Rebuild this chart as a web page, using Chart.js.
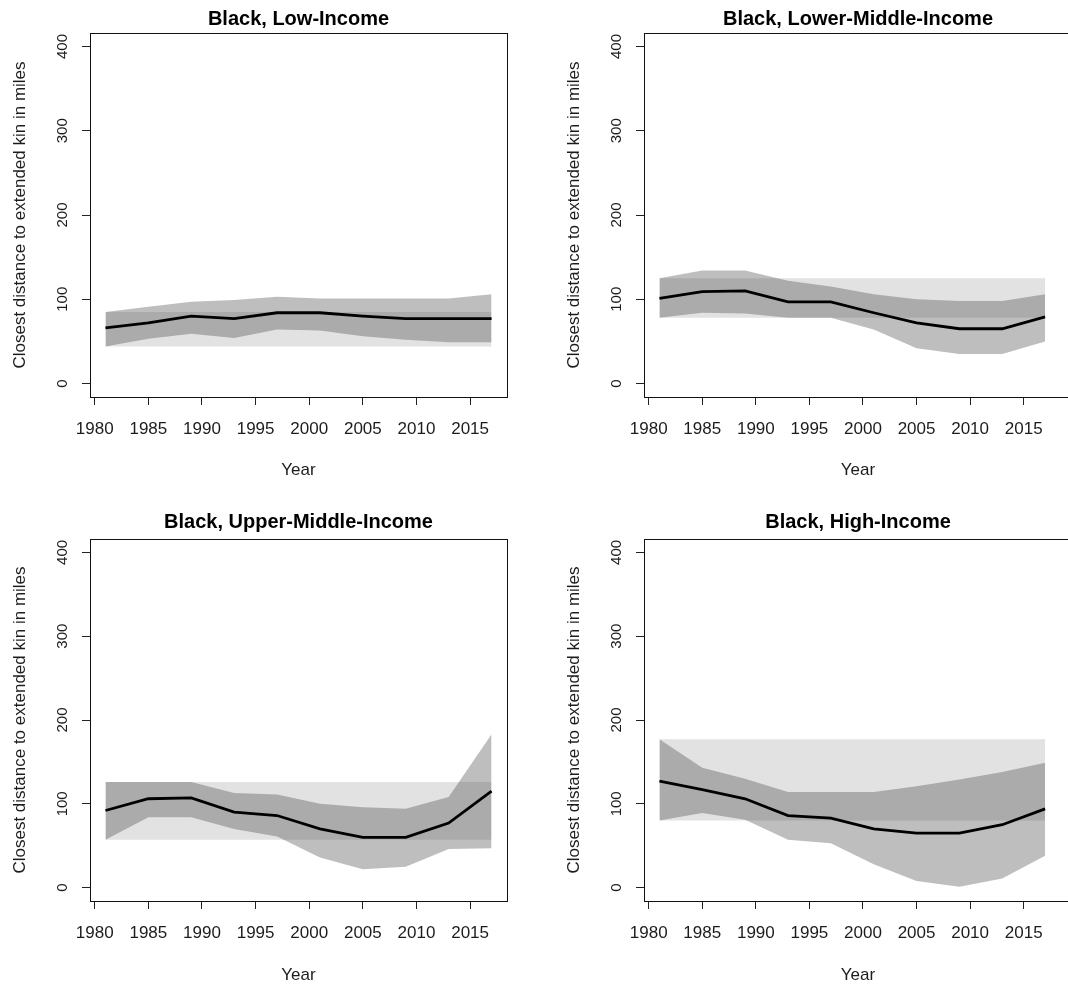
<!DOCTYPE html>
<html>
<head>
<meta charset="utf-8">
<script src="https://cdn.jsdelivr.net/npm/chart.js@4.4.0/dist/chart.umd.min.js"></script>
<style>
  html, body { margin: 0; padding: 0; background: #fff; overflow: hidden; }
  #wrap { position: relative; width: 1068px; height: 986px; }
  canvas { position: absolute; }
</style>
</head>
<body>
<div id="wrap">
  <canvas id="p1"></canvas>
  <canvas id="p2"></canvas>
  <canvas id="p3"></canvas>
  <canvas id="p4"></canvas>
</div>
<script>
  'use strict';

  var years = [1981, 1985, 1989, 1993, 1997, 2001, 2005, 2009, 2013, 2017];
  var bandYears = [1981, 2017];
  var xTicks = [1980, 1985, 1990, 1995, 2000, 2005, 2010, 2015];
  var yTicks = [0, 100, 200, 300, 400];

  // Low-Income
  var lowMean = [66, 72, 80, 77, 84, 84, 80, 77, 77, 77];
  var lowUpper = [85, 91, 97, 99, 103, 101, 101, 101, 101, 106];
  var lowLower = [44, 53, 59, 54, 64, 63, 56, 52, 49, 49];
  var lowBand = [44, 85];

  // Lower-Middle-Income
  var lmMean = [101, 109, 110, 97, 97, 84, 72, 65, 65, 79];
  var lmUpper = [125, 134, 134, 122, 115, 106, 100, 98, 98, 106];
  var lmLower = [78, 84, 83, 78, 78, 64, 42, 35, 35, 50];
  var lmBand = [78, 125];

  // Upper-Middle-Income
  var umMean = [92, 106, 107, 90, 86, 70, 60, 60, 77, 115];
  var umUpper = [126, 126, 126, 113, 111, 100, 96, 94, 108, 183];
  var umLower = [57, 84, 84, 70, 61, 36, 22, 25, 46, 47];
  var umBand = [57, 126];

  // High-Income
  var hiMean = [127, 117, 106, 86, 83, 70, 65, 65, 75, 94];
  var hiUpper = [177, 143, 130, 114, 114, 114, 121, 129, 138, 149];
  var hiLower = [80, 89, 81, 57, 53, 28, 8, 1, 11, 38];
  var hiBand = [80, 177];

  var yTitle = 'Closest distance to extended kin in miles';
  var textColor = '#1c1c1c';
  var fontFamily = '"Liberation Sans", Arial, Helvetica, sans-serif';

  var panels = [
    { id: 'p1', title: 'Black, Low-Income', mean: lowMean, upper: lowUpper, lower: lowLower, band: lowBand,
      left: 0, top: 0, width: 534, height: 482, axisW: 90, padRight: 27, xMax: 2018.44,
      titleTop: 7.5, titleBottom: 1.5, yTitlePad: 9.8, xTitlePad: 1.8 },
    { id: 'p2', title: 'Black, Lower-Middle-Income', mean: lmMean, upper: lmUpper, lower: lmLower, band: lmBand,
      left: 534, top: 0, width: 541, height: 482, axisW: 110, padRight: 3, xMax: 2019.51,
      titleTop: 7.5, titleBottom: 1.5, yTitlePad: 29.8, xTitlePad: 1.8 },
    { id: 'p3', title: 'Black, Upper-Middle-Income', mean: umMean, upper: umUpper, lower: umLower, band: umBand,
      left: 0, top: 493, width: 534, height: 493, axisW: 90, padRight: 27, xMax: 2018.44,
      titleTop: 17, titleBottom: 5, yTitlePad: 9.8, xTitlePad: 0.8 },
    { id: 'p4', title: 'Black, High-Income', mean: hiMean, upper: hiUpper, lower: hiLower, band: hiBand,
      left: 534, top: 493, width: 541, height: 493, axisW: 110, padRight: 3, xMax: 2019.51,
      titleTop: 17, titleBottom: 5, yTitlePad: 29.8, xTitlePad: 0.8 }
  ];

  function toPoints(xs, ys) {
    return xs.map(function(x, i) {
      return { x: x, y: ys[i] };
    });
  }

  // full box around the plot region, R style
  var boxPlugin = {
    id: 'box',
    afterDatasetsDraw: function(chart) {
      var a = chart.chartArea;
      var ctx = chart.ctx;
      ctx.save();
      ctx.strokeStyle = '#111';
      ctx.lineWidth = 1;
      ctx.strokeRect(Math.round(a.left) + 0.5, Math.round(a.top) + 0.5,
        Math.round(a.right - a.left), Math.round(a.bottom - a.top));
      ctx.restore();
    }
  };

  function createPanel(p) {
    var canvas = document.getElementById(p.id);
    canvas.width = p.width;
    canvas.height = p.height;
    canvas.style.left = p.left + 'px';
    canvas.style.top = p.top + 'px';
    canvas.style.width = p.width + 'px';
    canvas.style.height = p.height + 'px';

    var bandTop = [p.band[1], p.band[1]];
    var bandBottom = [p.band[0], p.band[0]];
    var clear = 'rgba(0,0,0,0)';

    var datasets = [
      { data: toPoints(years, p.mean), borderColor: '#000', borderWidth: 2.8, pointRadius: 0, fill: false },
      { data: toPoints(years, p.upper), borderWidth: 0, borderColor: clear, pointRadius: 0, fill: false },
      { data: toPoints(years, p.lower), borderWidth: 0, borderColor: clear, pointRadius: 0,
        fill: '-1', backgroundColor: 'rgba(70,70,70,0.35)' },
      { data: toPoints(bandYears, bandTop), borderWidth: 0, borderColor: clear, pointRadius: 0, fill: false },
      { data: toPoints(bandYears, bandBottom), borderWidth: 0, borderColor: clear, pointRadius: 0,
        fill: '-1', backgroundColor: '#e2e2e2' }
    ];

    return new Chart(canvas.getContext('2d'), {
      type: 'line',
      data: { datasets: datasets },
      plugins: [boxPlugin],
      options: {
        responsive: false,
        animation: false,
        events: [],
        elements: { line: { tension: 0 } },
        layout: { padding: { left: 0, right: p.padRight, top: 0, bottom: 0 } },
        plugins: {
          legend: { display: false },
          tooltip: { enabled: false },
          title: {
            display: true,
            fullSize: false,
            text: p.title,
            color: '#000',
            font: { family: fontFamily, size: 20, weight: 'bold', lineHeight: 1.2 },
            padding: { top: p.titleTop, bottom: p.titleBottom }
          }
        },
        scales: {
          x: {
            type: 'linear',
            min: 1979.56,
            max: p.xMax,
            afterBuildTicks: function(scale) {
              scale.ticks = xTicks.map(function(v) { return { value: v }; });
            },
            afterFit: function(scale) { scale.height = 85; },
            border: { display: false },
            grid: { drawOnChartArea: false, drawTicks: true, tickLength: 8, color: '#222', lineWidth: 1 },
            ticks: {
              color: textColor, autoSkip: false, maxRotation: 0, minRotation: 0, padding: 14,
              font: { family: fontFamily, size: 17 },
              callback: function(v) { return String(v); }
            },
            title: {
              display: true, text: 'Year', color: textColor,
              font: { family: fontFamily, size: 17, lineHeight: 1.2 },
              padding: { top: 0, bottom: p.xTitlePad }
            }
          },
          y: {
            type: 'linear',
            min: -16,
            max: 416,
            afterBuildTicks: function(scale) {
              scale.ticks = yTicks.map(function(v) { return { value: v }; });
            },
            afterFit: function(scale) { scale.width = p.axisW; },
            border: { display: false },
            grid: { drawOnChartArea: false, drawTicks: true, tickLength: 8, color: '#222', lineWidth: 1 },
            ticks: {
              color: textColor, minRotation: 90, maxRotation: 90, crossAlign: 'center', padding: 7,
              font: { family: fontFamily, size: 15 },
              callback: function(v) { return String(v); }
            },
            title: {
              display: true, text: yTitle, color: textColor,
              font: { family: fontFamily, size: 17, lineHeight: 1.2 },
              padding: { top: p.yTitlePad, bottom: 0 }
            }
          }
        }
      }
    });
  }

  panels.forEach(createPanel);
</script>
</body>
</html>
